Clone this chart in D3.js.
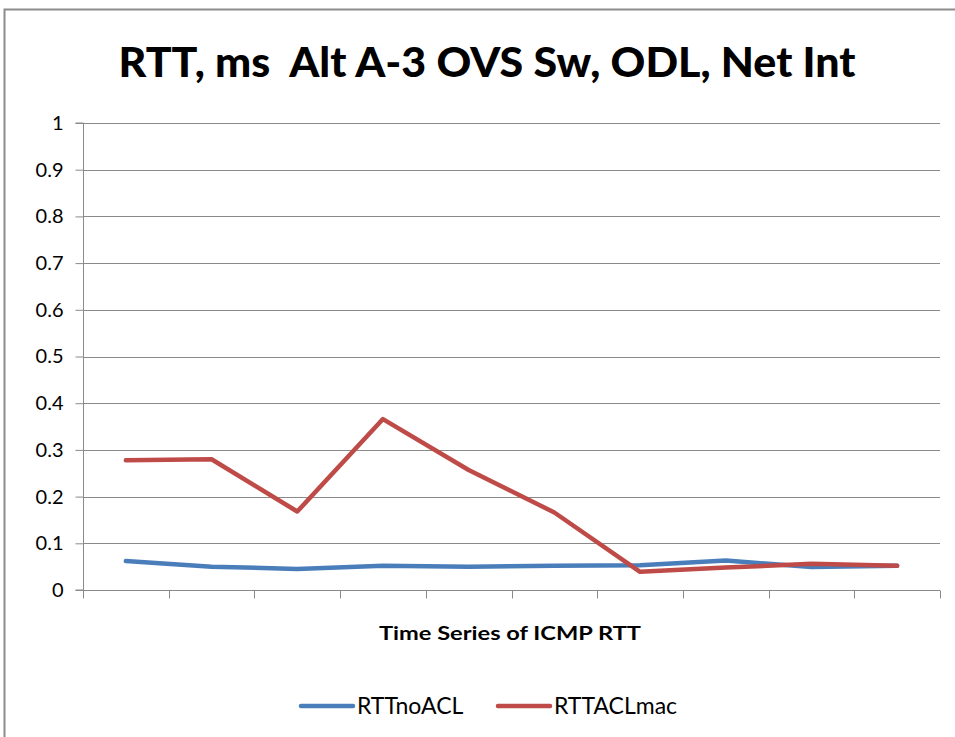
<!DOCTYPE html>
<html lang="en">
<head>
  <meta charset="UTF-8">
  <title>RTT, ms Alt A-3 OVS Sw, ODL, Net Int</title>
  <style>
    html,
    body {
      margin: 0;
      padding: 0;
      background: #fff;
    }

    text {
      font-family: Lato, "Open Sans", sans-serif;
      fill: #000;
    }
  </style>
</head>
<body>
<div id="chart"></div>

<script src="https://d3js.org/d3.v7.min.js"></script>
<script>
  // values
  const categories = ['1', '2', '3', '4', '5', '6', '7', '8', '9', '10'];
  const rttNoAcl = [0.062, 0.050, 0.045, 0.052, 0.050, 0.052, 0.053, 0.063, 0.049, 0.052];
  const rttAclMac = [0.278, 0.280, 0.168, 0.366, 0.257, 0.166, 0.039, 0.048, 0.056, 0.052];
  const yTicks = [0, 0.1, 0.2, 0.3, 0.4, 0.5, 0.6, 0.7, 0.8, 0.9, 1];

  const series = [
    { name: 'RTTnoACL', values: rttNoAcl, color: '#4a7ebb' },
    { name: 'RTTACLmac', values: rttAclMac, color: '#be4b48' },
  ];

  const width = 955;
  const height = 737;
  const margin = { top: 123, right: 15, bottom: 147, left: 83 };

  const svg = d3.select('#chart')
    .append('svg')
    .attr('width', width)
    .attr('height', height);

  // chart frame (only top and left edges show in the picture)
  svg.append('path')
    .attr('d', `M4.5,${height} V9.5 H${width}`)
    .attr('fill', 'none')
    .attr('stroke', '#8c8c8c')
    .attr('stroke-width', 2);

  svg.append('text')
    .attr('x', 487)
    .attr('y', 77)
    .attr('text-anchor', 'middle')
    .attr('font-size', 41)
    .attr('font-weight', 900)
    .attr('textLength', 737)
    .attr('lengthAdjust', 'spacingAndGlyphs')
    .text('RTT, ms  Alt A-3 OVS Sw, ODL, Net Int')
    .style('white-space', 'pre');

  const x = d3.scaleBand()
    .domain(categories)
    .range([margin.left, width - margin.right])
    .padding(0);

  const y = d3.scaleLinear()
    .domain([0, 1])
    .range([height - margin.bottom, margin.top]);

  // horizontal gridlines
  svg.append('g')
    .attr('stroke', '#8a8a8a')
    .attr('stroke-width', 1)
    .selectAll('line')
    .data(yTicks.filter(d => d > 0))
    .join('line')
    .attr('x1', x.range()[0])
    .attr('x2', x.range()[1])
    .attr('y1', d => Math.round(y(d)) + 0.5)
    .attr('y2', d => Math.round(y(d)) + 0.5);

  // y axis
  const yAxis = svg.append('g')
    .attr('transform', `translate(${margin.left + 0.5},0)`)
    .call(d3.axisLeft(y).tickValues(yTicks).tickSize(8).tickPadding(12)
      .tickFormat(d => d3.format('')(+d.toFixed(1))));
  yAxis.selectAll('line, path').attr('stroke', '#8a8a8a');
  yAxis.select('.domain').attr('d', `M-8,${y(1)}H0V${y(0)}H-8`);
  yAxis.selectAll('text')
    .attr('font-size', 20)
    .attr('font-family', 'Lato, sans-serif')
    .attr('fill', '#000');

  // x axis with tick marks between categories
  const xTickPos = categories.map(c => x(c)).concat([x.range()[1]]);
  const xAxis = svg.append('g')
    .attr('transform', `translate(0,${Math.round(y(0)) + 0.5})`);
  xAxis.append('line')
    .attr('x1', x.range()[0])
    .attr('x2', x.range()[1])
    .attr('stroke', '#8a8a8a');
  xAxis.selectAll('.tick')
    .data(xTickPos)
    .join('line')
    .attr('class', 'tick')
    .attr('x1', d => Math.round(d) + 0.5)
    .attr('x2', d => Math.round(d) + 0.5)
    .attr('y1', 0)
    .attr('y2', 8)
    .attr('stroke', '#8a8a8a');

  svg.append('text')
    .attr('x', 510)
    .attr('y', 640)
    .attr('text-anchor', 'middle')
    .attr('font-size', 19)
    .attr('font-family', '"Open Sans", sans-serif')
    .attr('font-weight', 'bold')
    .attr('textLength', 262)
    .attr('lengthAdjust', 'spacingAndGlyphs')
    .text('Time Series of ICMP RTT');

  const line = d3.line()
    .x((d, i) => x(categories[i]) + x.bandwidth() / 2)
    .y(d => y(d));

  svg.append('g')
    .selectAll('path')
    .data(series)
    .join('path')
    .attr('d', d => line(d.values))
    .attr('fill', 'none')
    .attr('stroke', d => d.color)
    .attr('stroke-width', 4.5)
    .attr('stroke-linejoin', 'round')
    .attr('stroke-linecap', 'round');

  // legend
  const legendX = [301, 498];
  const legend = svg.append('g')
    .selectAll('g')
    .data(series)
    .join('g')
    .attr('transform', (d, i) => `translate(${legendX[i]},706)`);
  legend.append('line')
    .attr('x1', 0)
    .attr('x2', 52)
    .attr('stroke', d => d.color)
    .attr('stroke-width', 4.5)
    .attr('stroke-linecap', 'round');
  legend.append('text')
    .attr('x', 56)
    .attr('y', 8)
    .attr('font-size', 23)
    .text(d => d.name);
</script>
</body>
</html>
